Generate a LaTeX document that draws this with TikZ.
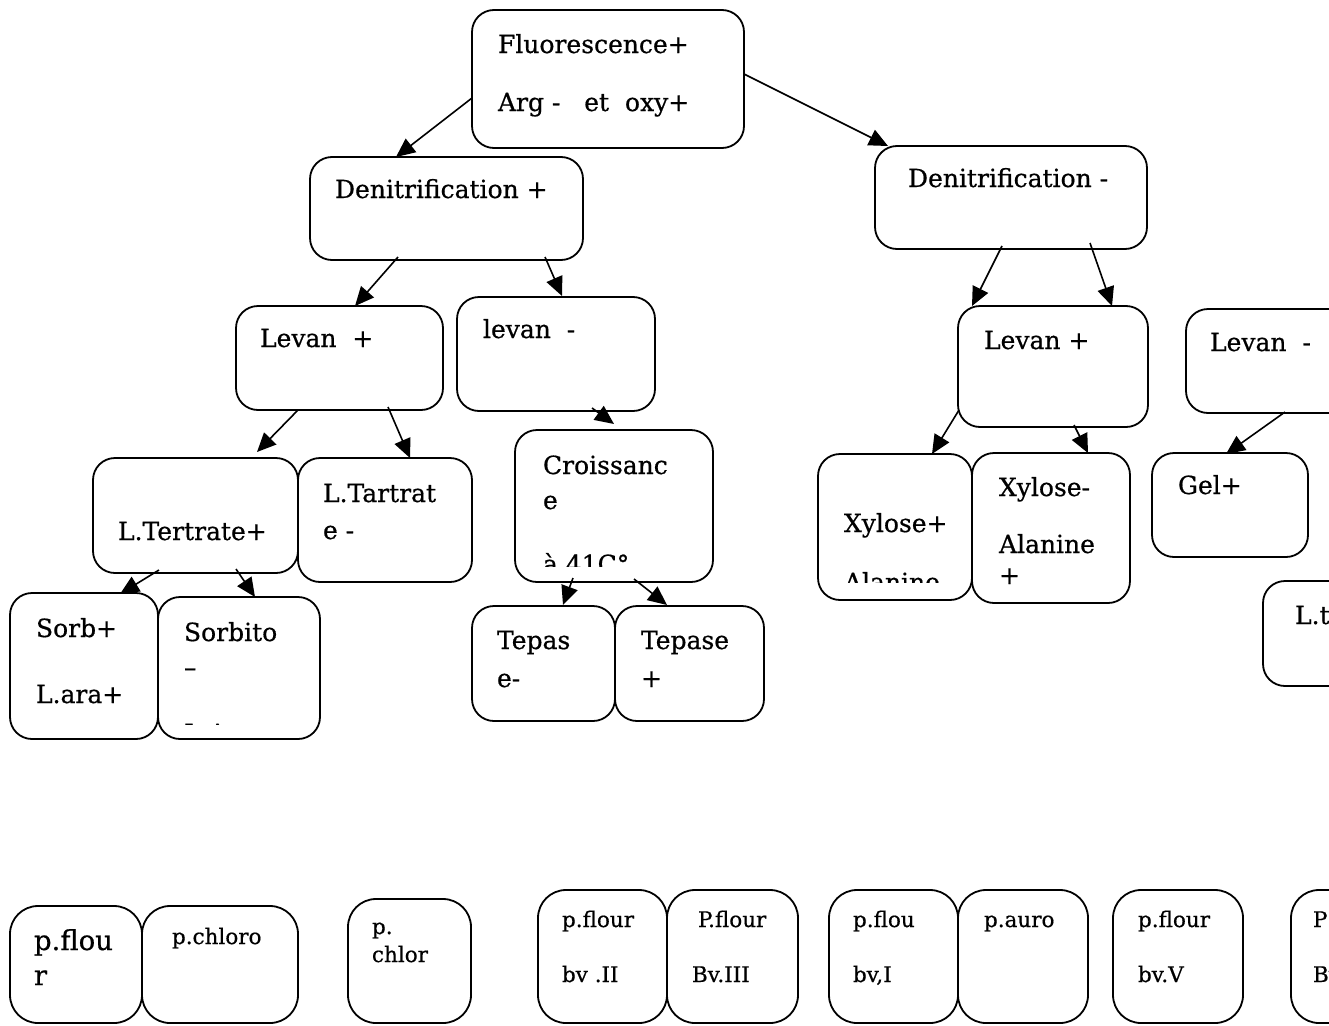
\documentclass[tikz,border=0pt]{standalone}
\usepackage{fontspec}
\setmainfont{DejaVu Serif}[FakeBold=0.6]
\usetikzlibrary{arrows.meta,calc}
\tikzset{
  box/.style={draw, line width=1.8pt, rounded corners=22pt, rectangle, inner sep=0pt, outer sep=0pt, anchor=north west},
  bbox/.style={box, rounded corners=28pt},
  t/.style={anchor=base west, inner sep=0pt, outer sep=0pt, font=\fontsize{25}{29}\selectfont},
  ts/.style={t, font=\fontsize{21.5}{25}\selectfont},
  arr/.style={line width=1.6pt, -{Triangle[length=19pt,width=17pt]}},
}
\newcommand{\bx}[6][box]{\node[#1, minimum width=#5pt, minimum height=#6pt] (#2) at (#3,#4) {};}
\begin{document}
\begin{tikzpicture}[x=1pt,y=-1pt]
\useasboundingbox (0,0) rectangle (1329,1025);
\clip (0,0) rectangle (1329,1025);
% boxes
\bx{root}{472}{10}{272}{138}
\bx{den1}{310}{157}{273}{103}
\bx{den2}{875}{146}{272}{103}
\bx{lev1}{236}{306}{207}{104}
\bx{levm1}{457}{297}{198}{114}
\bx{crois}{515}{430}{198}{152}
\bx{ltert}{93}{458}{205}{115}
\bx{ltart}{298}{458}{174}{124}
\bx{sorb}{10}{593}{148}{146}
\bx{sorbito}{158}{597}{162}{142}
\bx{tep1}{472}{606}{143}{115}
\bx{tep2}{615}{606}{149}{115}
\bx{lev2}{958}{306}{190}{121}
\bx{levm2}{1186}{309}{170}{104}
\bx{xyl1}{818}{454}{154}{146}
\bx{xyl2}{972}{453}{158}{150}
\bx{gel}{1152}{453}{156}{104}
\bx{ltr}{1263}{581}{100}{105}
\bx[bbox]{b1}{10}{906}{132}{117}
\bx[bbox]{b2}{142}{906}{156}{117}
\bx[bbox]{b3}{348}{899}{123}{124}
\bx[bbox]{b4}{538}{890}{129}{133}
\bx[bbox]{b5}{667}{890}{131}{133}
\bx[bbox]{b6}{829}{890}{129}{133}
\bx[bbox]{b7}{958}{890}{130}{133}
\bx[bbox]{b8}{1113}{890}{130}{133}
\bx[bbox]{b9}{1291}{890}{80}{133}
% texts
\node[t] (t1) at (498,53) {Fluorescence+};
\node[t] (t2) at (498,111) {Arg -\ \ \ et\ \ oxy+};
\node[t] (t3) at (335,198) {Denitrification +};
\node[t] (t4) at (908,187) {Denitrification -};
\node[t] (t5) at (260,347) {Levan\ \ +};
\node[t] (t6) at (483,338) {levan\ \ -};
\node[t] (t7) at (543,474) {Croissanc};
\node[t] (t8) at (543,509) {e};
\begin{scope}
\clip (515,430) rectangle (713,566);
\node[t] (t9) at (543,573) {à 41C°};
\end{scope}
\node[t] (t10) at (118,540) {L.Tertrate+};
\node[t] (t11) at (323,502) {L.Tartrat};
\node[t] (t12) at (323,539) {e -};
\node[t] (t13) at (36,637) {Sorb+};
\node[t] (t14) at (36,703) {L.ara+};
\node[t] (t15) at (184,641) {Sorbito};
\node[t] (t16) at (184,676) {–};
\begin{scope}
\clip (158,597) rectangle (320,724);
\node[t] (t17) at (184,742) {L.Ara};
\end{scope}
\node[t] (t18) at (497,649) {Tepas};
\node[t] (t19) at (497,687) {e-};
\node[t] (t20) at (641,649) {Tepase};
\node[t] (t21) at (641,687) {+};
\node[t] (t22) at (984,349) {Levan +};
\node[t] (t23) at (1210,351) {Levan\ \ -};
\node[t] (t24) at (844,532) {Xylose+};
\begin{scope}
\clip (818,454) rectangle (972,582);
\node[t] (t25) at (844,591) {Alanine};
\end{scope}
\node[t] (t26) at (999,496) {Xylose-};
\node[t] (t27) at (999,553) {Alanine};
\node[t] (t28) at (999,584) {+};
\node[t] (t29) at (1178,494) {Gel+};
\node[t] (t30) at (1295,624) {L.tartrate};
% bottom row
\node[t, font=\fontsize{27.5}{31}\selectfont] (u1) at (34,950) {p.flou};
\node[t, font=\fontsize{27.5}{31}\selectfont] (u2) at (34,985) {r};
\node[ts] (u3) at (172,944) {p.chloro};
\node[ts] (u4) at (372,934) {p.};
\node[ts] (u5) at (372,962) {chlor};
\node[ts] (u6) at (562,927) {p.flour};
\node[ts] (u7) at (562,982) {bv .II};
\node[ts] (u8) at (698,927) {P.flour};
\node[ts] (u9) at (692,982) {Bv.III};
\node[ts] (u10) at (853,927) {p.flou};
\node[ts] (u11) at (853,982) {bv,I};
\node[ts] (u12) at (984,927) {p.auro};
\node[ts] (u13) at (1138,927) {p.flour};
\node[ts] (u14) at (1138,982) {bv.V};
\node[ts] (u15) at (1313,927) {P};
\node[ts] (u16) at (1313,982) {Bv};
% arrows
\draw[arr] ($(root.north west)+(0,88)$) -- ($(den1.north west)+(86,0)$);
\draw[arr] ($(root.north west)+(272,64)$) -- ($(den2.north west)+(13,0)$);
\draw[arr] ($(den1.north west)+(88,100)$) -- ($(lev1.north west)+(119,0)$);
\draw[arr] ($(den1.north west)+(235,100)$) -- ($(levm1.north west)+(105,-1)$);
\draw[arr] ($(levm1.north west)+(135,111)$) -- ($(crois.north west)+(99,-6)$);
\draw[arr] ($(lev1.north west)+(62,104)$) -- ($(ltert.north west)+(164,-6)$);
\draw[arr] ($(lev1.north west)+(152,101)$) -- ($(ltart.north west)+(112,0)$);
\draw[arr] ($(ltert.north west)+(66,112)$) -- ($(sorb.north west)+(110,1)$);
\draw[arr] ($(ltert.north west)+(143,111)$) -- ($(sorbito.north west)+(97,0)$);
\draw[arr] ($(crois.north west)+(58,148)$) -- ($(tep1.north west)+(91,-1)$);
\draw[arr] ($(crois.north west)+(119,149)$) -- ($(tep2.north west)+(52,-1)$);
\draw[arr] ($(den2.north west)+(127,100)$) -- ($(lev2.north west)+(14,0)$);
\draw[arr] ($(den2.north west)+(215,97)$) -- ($(lev2.north west)+(154,0)$);
\draw[arr] ($(lev2.north west)+(1,104)$) -- ($(xyl1.north west)+(114,0)$);
\draw[arr] ($(lev2.north west)+(116,119)$) -- ($(xyl2.north west)+(116,0)$);
\draw[arr] ($(levm2.north west)+(99,103)$) -- ($(gel.north west)+(74,1)$);
\end{tikzpicture}
\end{document}
